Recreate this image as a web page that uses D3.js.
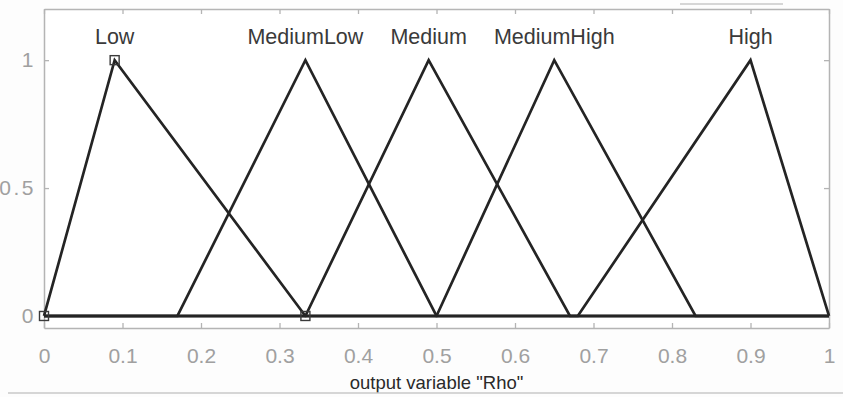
<!DOCTYPE html>
<html>
<head>
<meta charset="utf-8">
<script src="https://cdn.jsdelivr.net/npm/d3@7"></script>
<style>
  html, body { margin: 0; padding: 0; background: #fdfdfd; }
  svg { display: block; font-family: "Liberation Sans", Arial, sans-serif; }
</style>
</head>
<body>
<div id="app"></div>
<script>
// Membership function names and triangle parameters [a, peak, c] for output "Rho"
const mfNames = ['Low', 'MediumLow', 'Medium', 'MediumHigh', 'High'];
const mfParams = [
  [0, 0.09, 0.333],
  [0.17, 0.333, 0.5],
  [0.333, 0.49, 0.67],
  [0.5, 0.65, 0.83],
  [0.68, 0.9, 1]
];
const selectedMf = 0; // vertices of "Low" drawn with square markers
const xTicks = [0, 0.1, 0.2, 0.3, 0.4, 0.5, 0.6, 0.7, 0.8, 0.9, 1];
const yTicks = [0, 0.5, 1];
const xTitle = 'output variable "Rho"';

const svgWidth = 843;
const svgHeight = 397;
const plot = { left: 44, right: 829, top: 9, bottom: 328 };

const x = d3.scaleLinear().domain([0, 1]).range([plot.left, plot.right]);
const y = d3.scaleLinear().domain([-0.047, 1.2]).range([plot.bottom, plot.top]);

const svg = d3.select('#app')
  .append('svg')
  .attr('width', svgWidth)
  .attr('height', svgHeight);

// plot area background
svg.append('rect')
  .attr('x', plot.left).attr('y', plot.top)
  .attr('width', plot.right - plot.left).attr('height', plot.bottom - plot.top)
  .attr('fill', '#ffffff');

const axisColor = '#b4b4b4';
const tickLabelColor = '#a0a0a0';

// axes on all four sides, ticks pointing inward (box style)
const bottomAxis = svg.append('g')
  .attr('transform', `translate(0,${plot.bottom})`)
  .call(d3.axisBottom(x).tickValues(xTicks).tickSizeInner(-5).tickSizeOuter(0).tickPadding(20)
    .tickFormat(d3.format('~g')));
const topAxis = svg.append('g')
  .attr('transform', `translate(0,${plot.top})`)
  .call(d3.axisTop(x).tickValues(xTicks).tickSizeInner(-5).tickSizeOuter(0).tickFormat(''));
const leftAxis = svg.append('g')
  .attr('transform', `translate(${plot.left},0)`)
  .call(d3.axisLeft(y).tickValues(yTicks).tickSizeInner(-5).tickSizeOuter(0).tickPadding(8)
    .tickFormat(d3.format('~g')));
const rightAxis = svg.append('g')
  .attr('transform', `translate(${plot.right},0)`)
  .call(d3.axisRight(y).tickValues(yTicks).tickSizeInner(-5).tickSizeOuter(0).tickFormat(''));

[bottomAxis, topAxis, leftAxis, rightAxis].forEach((g) => {
  g.select('.domain').attr('stroke', axisColor).attr('stroke-width', 1.5);
  g.selectAll('.tick line').attr('stroke', axisColor).attr('stroke-width', 1.3);
  g.selectAll('.tick text')
    .attr('fill', tickLabelColor)
    .attr('font-size', 21)
    .attr('font-family', '"Liberation Sans", Arial, sans-serif');
});
leftAxis.selectAll('.tick text').attr('letter-spacing', 2.5);

// membership function curves, each drawn over the full [0, 1] range
const line = d3.line().x((d) => x(d[0])).y((d) => y(d[1]));
const mfPoints = mfParams.map(([a, b, c]) => [[0, 0], [a, 0], [b, 1], [c, 0], [1, 0]]);

svg.append('g')
  .selectAll('path')
  .data(mfPoints)
  .join('path')
  .attr('d', line)
  .attr('fill', 'none')
  .attr('stroke', '#242424')
  .attr('stroke-width', 2.7)
  .attr('stroke-linejoin', 'miter');

// square markers at the selected function's vertices
const [sa, sb, sc] = mfParams[selectedMf];
svg.append('g')
  .selectAll('rect')
  .data([[sa, 0], [sb, 1], [sc, 0]])
  .join('rect')
  .attr('x', (d) => x(d[0]) - 4.5)
  .attr('y', (d) => y(d[1]) - 4.5)
  .attr('width', 9)
  .attr('height', 9)
  .attr('fill', 'none')
  .attr('stroke', '#3a3a3a')
  .attr('stroke-width', 1.4);

// function names above the peaks
svg.append('g')
  .selectAll('text')
  .data(mfNames)
  .join('text')
  .attr('x', (d, i) => x(mfParams[i][1]))
  .attr('y', 44)
  .attr('text-anchor', 'middle')
  .attr('font-size', 21.5)
  .attr('fill', '#3a3a3a')
  .text((d) => d);

// x axis title
svg.append('text')
  .attr('x', (plot.left + plot.right) / 2)
  .attr('y', 383)
  .attr('dy', '0.35em')
  .attr('text-anchor', 'middle')
  .attr('font-size', 18.5)
  .attr('fill', '#2a2a2a')
  .text(xTitle);

// faint frame edges of the screenshot
svg.append('line')
  .attr('x1', 8).attr('x2', svgWidth).attr('y1', 393).attr('y2', 393)
  .attr('stroke', '#c8c8c8').attr('stroke-width', 1.5);
svg.append('line')
  .attr('x1', 680).attr('x2', 783).attr('y1', 4).attr('y2', 4)
  .attr('stroke', '#c8c8c8').attr('stroke-width', 1.5);
</script>
</body>
</html>
